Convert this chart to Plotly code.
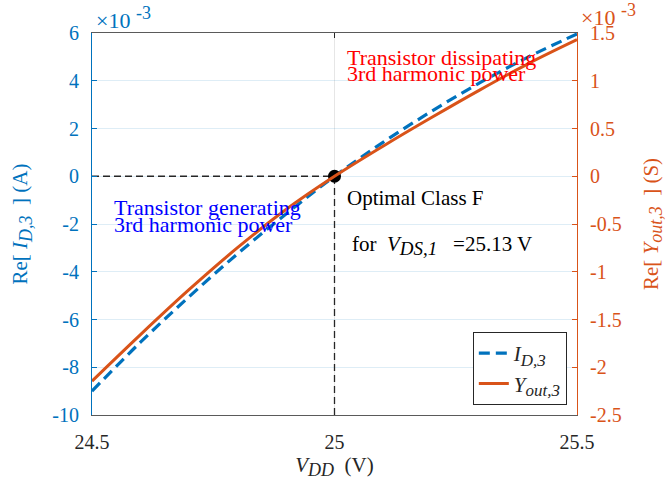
import plotly.graph_objects as go

# ---- data ----
vdd = [24.5, 24.6, 24.7, 24.8, 24.9, 25.0, 25.1, 25.2, 25.3, 25.4, 25.5]
# Re[I_D,3] in units of 1e-3 A (left axis)
i_d3 = [-9.0, -6.95, -5.05, -3.25, -1.58, 0.0, 1.42, 2.72, 3.92, 5.0, 5.96]
# Re[Y_out,3] in units of 1e-3 S (right axis)
y_out3 = [-2.145, -1.658, -1.188, -0.748, -0.348, 0.0, 0.315, 0.615, 0.905, 1.18, 1.43]

opt_vdd = 25.0
opt_val = 0.0
left_range = [-10, 6]
right_range = [-2.5, 1.5]
x_range = [24.5, 25.5]
left_ticks = [-10, -8, -6, -4, -2, 0, 2, 4, 6]
right_ticks = [-2.5, -2, -1.5, -1, -0.5, 0, 0.5, 1, 1.5]
x_ticks = [24.5, 25, 25.5]
x_ticktext = ["24.5", "25", "25.5"]

BLUE = "#0072BD"
ORANGE = "#D95319"
AX = "#262626"
FONT = "Liberation Serif, Times New Roman, serif"


def sub(t, size=18):
    return '<sub><span style="font-size:%dpx"><i>%s</i></span></sub>' % (size, t)


fig = go.Figure()

# reference dashed lines to the optimal point
fig.add_trace(go.Scatter(x=[x_range[0], opt_vdd], y=[opt_val, opt_val], mode="lines",
                         line=dict(color=AX, width=1.3, dash="7px,4px"),
                         showlegend=False, hoverinfo="skip"))
fig.add_trace(go.Scatter(x=[opt_vdd, opt_vdd], y=[left_range[0], opt_val], mode="lines",
                         line=dict(color=AX, width=1.3, dash="7px,4px"),
                         showlegend=False, hoverinfo="skip"))

fig.add_trace(go.Scatter(x=vdd, y=i_d3, mode="lines", name="<i>I</i>" + sub("D,3", 17),
                         line=dict(color=BLUE, width=3.2, dash="11px,6px", shape="spline")))
fig.add_trace(go.Scatter(x=vdd, y=y_out3, mode="lines", name="<i>Y</i>" + sub("out,3", 17),
                         yaxis="y2",
                         line=dict(color=ORANGE, width=3, shape="spline")))

fig.add_trace(go.Scatter(x=[opt_vdd], y=[opt_val], mode="markers",
                         marker=dict(color="black", size=13),
                         showlegend=False, hoverinfo="skip"))

fig.update_layout(
    width=669, height=489,
    margin=dict(l=92, r=92, t=33, b=74),
    paper_bgcolor="white", plot_bgcolor="white",
    font=dict(family=FONT, size=20, color=AX),
    xaxis=dict(range=x_range, tickvals=x_ticks, ticktext=x_ticktext,
               ticks="inside", ticklen=5, tickcolor=AX, showline=True, linecolor="#5a5a5a",
               linewidth=1, mirror="ticks", showgrid=True, gridcolor="#e6e6e6", gridwidth=1,
               zeroline=False, ticklabelstandoff=9,
               title=dict(text="<i>V</i>" + sub("DD", 18) + "  (V)",
                          font=dict(family=FONT, size=21, color=AX), standoff=4),
               tickfont=dict(family=FONT, size=20, color=AX)),
    yaxis=dict(range=left_range, tickvals=left_ticks,
               ticktext=[str(t) for t in left_ticks],
               ticks="inside", ticklen=5, tickcolor=BLUE, showline=True, linecolor=BLUE,
               linewidth=1, showgrid=True, gridcolor="rgba(0,114,189,0.13)", gridwidth=1,
               zeroline=False, ticklabelstandoff=8,
               tickfont=dict(family=FONT, size=20, color=BLUE),
               title=dict(text="Re[ <i>I</i>" + sub("D,3", 18) + "  ] (A)",
                          font=dict(family=FONT, size=21, color=BLUE), standoff=18)),
    yaxis2=dict(range=right_range, tickvals=right_ticks,
                ticktext=[("%g" % t) for t in right_ticks],
                overlaying="y", side="right", anchor="x",
                ticks="inside", ticklen=5, tickcolor=ORANGE, showline=True, linecolor=ORANGE,
                linewidth=1, showgrid=False, zeroline=False, ticklabelstandoff=8,
                tickfont=dict(family=FONT, size=20, color=ORANGE),
                title=dict(text="Re[ <i>Y</i>" + sub("out,3", 18) + "  ] (S)",
                           font=dict(family=FONT, size=21, color=ORANGE), standoff=22)),
    legend=dict(x=0.979, y=0.026, xanchor="right", yanchor="bottom",
                bgcolor="white", bordercolor=AX, borderwidth=1,
                font=dict(family=FONT, size=21, color=AX),
                itemwidth=30, tracegroupgap=0),
)

exp_txt = '×10 <sup><span style="font-size:18px">-3</span></sup>'
ann = [
    dict(text=exp_txt, x=0.004, y=1.038, font=dict(size=22, color=BLUE)),
    dict(text=exp_txt, x=1.004, y=1.048, font=dict(size=22, color=ORANGE)),
    dict(text="Transistor dissipating", x=0.5216, y=0.9346, font=dict(size=22, color="#FF0000")),
    dict(text="3rd harmonic power", x=0.5216, y=0.8930, font=dict(size=22, color="#FF0000")),
    dict(text="Transistor generating", x=0.0406, y=0.5432, font=dict(size=22, color="#0000FF")),
    dict(text="3rd harmonic power", x=0.0406, y=0.5000, font=dict(size=22, color="#0000FF")),
    dict(text="Optimal Class F", x=0.5216, y=0.5673, font=dict(size=21, color="black")),
    dict(text="for  <i>V</i>" + sub("DS,1", 19) + "   =25.13 V", x=0.532, y=0.445,
         font=dict(size=21, color="black")),
]
for a in ann:
    a["font"]["family"] = FONT
    fig.add_annotation(xref="paper", yref="paper", xanchor="left", yanchor="middle",
                       showarrow=False, **a)

fig.write_html("out.html")
